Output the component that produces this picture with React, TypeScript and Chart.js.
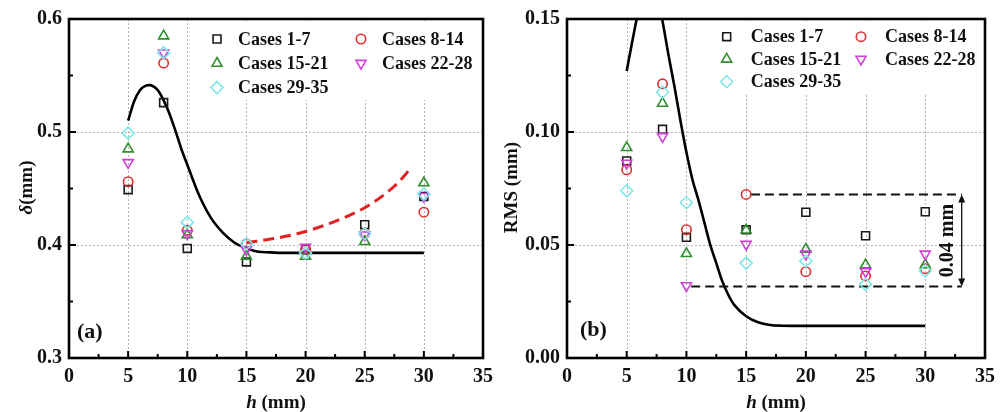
import React, { useEffect, useRef } from "react";
import { Chart, registerables } from "chart.js";
Chart.register(...registerables);

// ---------------- data ----------------
const hValues = [5, 8, 10, 15, 20, 25, 30];
const caseLabels = ["Cases 1-7", "Cases 8-14", "Cases 15-21", "Cases 22-28", "Cases 29-35"];

// panel (a): delta (mm)
const delta1_7 = [0.449, 0.526, 0.397, 0.385, 0.396, 0.418, 0.443];
const delta8_14 = [0.456, 0.561, 0.413, 0.401, 0.396, 0.410, 0.429];
const delta15_21 = [0.485, 0.585, 0.409, 0.390, 0.390, 0.403, 0.455];
const delta22_28 = [0.473, 0.570, 0.410, 0.396, 0.398, 0.409, 0.443];
const delta29_35 = [0.499, 0.570, 0.420, 0.401, 0.393, 0.410, 0.445];

const deltaFitH = [5, 5.5, 6, 6.5, 6.8, 7.5, 8, 8.5, 9, 9.5, 10, 11, 12, 13, 14, 15, 16, 17, 18, 20, 25, 30];
const deltaFit = [0.510, 0.527, 0.537, 0.541, 0.5415, 0.537, 0.528, 0.516, 0.501, 0.485, 0.471, 0.444, 0.424, 0.411, 0.402, 0.397, 0.394, 0.3935, 0.393, 0.393, 0.393, 0.393];

const deltaTrendH = [15, 17.5, 20, 22.5, 25, 27.5, 29];
const deltaTrend = [0.402, 0.406, 0.412, 0.421, 0.433, 0.452, 0.469];

// panel (b): RMS (mm)
const rms1_7 = [0.0872, 0.1012, 0.0534, 0.0567, 0.0645, 0.0541, 0.0647];
const rms8_14 = [0.0833, 0.1213, 0.0568, 0.0724, 0.0382, 0.0363, 0.0395];
const rms15_21 = [0.0931, 0.1127, 0.0462, 0.0566, 0.0481, 0.0412, 0.0412];
const rms22_28 = [0.0862, 0.0980, 0.0320, 0.0503, 0.0460, 0.0382, 0.0460];
const rms29_35 = [0.0740, 0.1176, 0.0688, 0.0420, 0.0429, 0.0326, 0.0386];

const rmsFitH = [5, 5.5, 6, 6.5, 7, 7.5, 8, 8.5, 9, 9.5, 10, 10.5, 11, 11.5, 12, 12.5, 13, 13.5, 14, 15, 16, 17, 18, 20, 25, 30];
const rmsFit = [0.127, 0.141, 0.154, 0.163, 0.166, 0.162, 0.149, 0.134, 0.120, 0.105, 0.091, 0.079, 0.070, 0.060, 0.050, 0.042, 0.034, 0.028, 0.0235, 0.0185, 0.0158, 0.0146, 0.0143, 0.0142, 0.0142, 0.0142];

const rangeTop = 0.0724;
const rangeBottom = 0.0316;
const rangeTopH = [15.4, 33.05];
const rangeBottomH = [10.4, 33.05];
const rangeArrowH = 33.05;
const rangeLabel = "0.04 mm";
const rangeLabelH = 31.9;

// ticks
const hTicks = [0, 5, 10, 15, 20, 25, 30, 35];
const hMinorTicks = [2.5, 7.5, 12.5, 17.5, 22.5, 27.5, 32.5];
const hGrid = [5, 10, 15, 20, 25, 30];
const deltaTicks = [0.3, 0.4, 0.5, 0.6];
const deltaMinorTicks = [0.35, 0.45, 0.55];
const deltaGrid = [0.4, 0.5];
const rmsTicks = [0, 0.05, 0.1, 0.15];
const rmsMinorTicks = [0.025, 0.075, 0.125];
const rmsGrid = [0.05, 0.1];

// ---------------- styles ----------------
const FONT = '"Liberation Serif", "Times New Roman", serif';
Chart.defaults.font.family = FONT;

type MarkerStyle = { kind: string; color: string; r: number };
const markerStyles: MarkerStyle[] = [
  { kind: "square", color: "#1a1a1a", r: 5.6 },
  { kind: "circle", color: "#dc2f2f", r: 4.7 },
  { kind: "triangle", color: "#2f8f2f", r: 5.8 },
  { kind: "down", color: "#d040d8", r: 5.8 },
  { kind: "diamond", color: "#7ee8e8", r: 6 },
];

function chartPointStyle(kind: string) {
  if (kind === "square") return { pointStyle: "rect", rotation: 0 };
  if (kind === "circle") return { pointStyle: "circle", rotation: 0 };
  if (kind === "triangle") return { pointStyle: "triangle", rotation: 0 };
  if (kind === "down") return { pointStyle: "triangle", rotation: 180 };
  return { pointStyle: "rectRot", rotation: 0 };
}

function drawMarker(ctx: CanvasRenderingContext2D, kind: string, x: number, y: number, r: number, color: string) {
  ctx.save();
  ctx.strokeStyle = color;
  ctx.lineWidth = 1.6;
  ctx.setLineDash([]);
  ctx.beginPath();
  if (kind === "square") {
    const s = Math.SQRT1_2 * r;
    ctx.rect(x - s, y - s, 2 * s, 2 * s);
  } else if (kind === "circle") {
    ctx.arc(x, y, r, 0, Math.PI * 2);
  } else if (kind === "triangle" || kind === "down") {
    const sgn = kind === "triangle" ? 1 : -1;
    const w = (r * Math.sqrt(3)) / 2;
    ctx.moveTo(x, y - sgn * r);
    ctx.lineTo(x + w, y + sgn * r * 0.5);
    ctx.lineTo(x - w, y + sgn * r * 0.5);
    ctx.closePath();
  } else {
    ctx.moveTo(x, y - r);
    ctx.lineTo(x + r, y);
    ctx.lineTo(x, y + r);
    ctx.lineTo(x - r, y);
    ctx.closePath();
  }
  ctx.stroke();
  ctx.restore();
}

function scatterSet(label: string, values: number[], style: MarkerStyle) {
  const ps = chartPointStyle(style.kind);
  return {
    label,
    data: hValues.map((h, i) => ({ x: h, y: values[i] })),
    showLine: false,
    pointStyle: ps.pointStyle,
    rotation: ps.rotation,
    pointRadius: style.r,
    pointBorderWidth: 1.6,
    pointBorderColor: style.color,
    pointBackgroundColor: "rgba(0,0,0,0)",
    borderColor: style.color,
    backgroundColor: "rgba(0,0,0,0)",
  };
}

function lineSet(xs: number[], ys: number[], color: string, width: number, dash: number[]) {
  return {
    label: "_line",
    data: xs.map((h, i) => ({ x: h, y: ys[i] })),
    showLine: true,
    pointRadius: 0,
    borderColor: color,
    borderWidth: width,
    borderDash: dash,
    cubicInterpolationMode: "monotone",
    fill: false,
  };
}

type PanelCfg = {
  yMin: number;
  yMax: number;
  yTicks: number[];
  yMinor: number[];
  yGrid: number[];
  yDigits: number;
  yAxisWidth: number;
  padRight: number;
  legend: { x: number; y: number; colGap: number; rowGap: number; textDx: number; box: [number, number, number, number] };
  yTitle: { x: number; parts: { t: string; italic: boolean }[] };
  tag: { t: string; x: number; y: number };
  extra?: (chart: any) => void;
};

function drawRich(ctx: CanvasRenderingContext2D, parts: { t: string; italic: boolean }[], size: number) {
  const fonts = parts.map((p) => `${p.italic ? "italic " : ""}bold ${size}px ${FONT}`);
  let total = 0;
  const widths = parts.map((p, i) => {
    ctx.font = fonts[i];
    const w = ctx.measureText(p.t).width;
    total += w;
    return w;
  });
  let cx = -total / 2;
  parts.forEach((p, i) => {
    ctx.font = fonts[i];
    ctx.fillText(p.t, cx, 0);
    cx += widths[i];
  });
}

function decorPlugin(cfg: PanelCfg) {
  return {
    id: "decor",
    beforeDatasetsDraw(chart: any) {
      const { ctx, chartArea: a, scales } = chart;
      const x = scales.x, y = scales.y;
      ctx.save();
      ctx.strokeStyle = "#b5b5b5";
      ctx.lineWidth = 1;
      ctx.setLineDash([2, 2]);
      ctx.beginPath();
      hGrid.forEach((v) => {
        const px = Math.round(x.getPixelForValue(v)) + 0.5;
        ctx.moveTo(px, a.top);
        ctx.lineTo(px, a.bottom);
      });
      cfg.yGrid.forEach((v) => {
        const py = Math.round(y.getPixelForValue(v)) + 0.5;
        ctx.moveTo(a.left, py);
        ctx.lineTo(a.right, py);
      });
      ctx.stroke();
      ctx.restore();
    },
    afterDatasetsDraw(chart: any) {
      const { ctx, chartArea: a, scales } = chart;
      const x = scales.x, y = scales.y;
      ctx.save();
      // legend
      const L = cfg.legend;
      ctx.fillStyle = "#ffffff";
      ctx.fillRect(L.box[0], L.box[1], L.box[2], L.box[3]);
      ctx.font = `bold 18px ${FONT}`;
      ctx.fillStyle = "#111";
      ctx.textBaseline = "middle";
      ctx.textAlign = "left";
      caseLabels.forEach((lab, i) => {
        const col = i % 2, row = Math.floor(i / 2);
        const mx = L.x + col * L.colGap, my = L.y + row * L.rowGap;
        drawMarker(ctx, markerStyles[i].kind, mx, my, markerStyles[i].r, markerStyles[i].color);
        ctx.fillStyle = "#111";
        ctx.fillText(lab, mx + L.textDx, my + 1);
      });

      if (cfg.extra) cfg.extra(chart);

      // frame
      ctx.setLineDash([]);
      ctx.strokeStyle = "#000";
      ctx.lineWidth = 2.6;
      ctx.strokeRect(a.left, a.top, a.right - a.left, a.bottom - a.top);
      // ticks
      ctx.lineWidth = 2;
      ctx.beginPath();
      hTicks.forEach((v) => {
        const px = x.getPixelForValue(v);
        ctx.moveTo(px, a.bottom);
        ctx.lineTo(px, a.bottom - 7);
      });
      hMinorTicks.forEach((v) => {
        const px = x.getPixelForValue(v);
        ctx.moveTo(px, a.bottom);
        ctx.lineTo(px, a.bottom - 4);
      });
      cfg.yTicks.forEach((v) => {
        const py = y.getPixelForValue(v);
        ctx.moveTo(a.left, py);
        ctx.lineTo(a.left + 7, py);
      });
      cfg.yMinor.forEach((v) => {
        const py = y.getPixelForValue(v);
        ctx.moveTo(a.left, py);
        ctx.lineTo(a.left + 4, py);
      });
      ctx.stroke();

      // panel tag
      ctx.fillStyle = "#111";
      ctx.font = `bold 22px ${FONT}`;
      ctx.textAlign = "left";
      ctx.textBaseline = "middle";
      ctx.fillText(cfg.tag.t, cfg.tag.x, cfg.tag.y);

      // x title
      ctx.save();
      ctx.translate((a.left + a.right) / 2, 403);
      ctx.textAlign = "left";
      drawRich(ctx, [{ t: "h", italic: true }, { t: " (mm)", italic: false }], 19);
      ctx.restore();

      // y title
      ctx.save();
      ctx.translate(cfg.yTitle.x, (a.top + a.bottom) / 2 - 1);
      ctx.rotate(-Math.PI / 2);
      ctx.textAlign = "left";
      drawRich(ctx, cfg.yTitle.parts, 19);
      ctx.restore();

      ctx.restore();
    },
  };
}

function buildConfig(cfg: PanelCfg, datasets: any[]) {
  return {
    type: "scatter",
    data: { datasets },
    options: {
      responsive: false,
      animation: false,
      events: [],
      layout: { padding: { left: 0, right: cfg.padRight, top: 19, bottom: 0 } },
      plugins: { legend: { display: false }, tooltip: { enabled: false } },
      scales: {
        x: {
          type: "linear",
          min: 0,
          max: 35,
          afterBuildTicks: (s: any) => {
            s.ticks = hTicks.map((v) => ({ value: v }));
          },
          afterFit: (s: any) => {
            s.height = 54;
          },
          ticks: {
            autoSkip: false,
            maxRotation: 0,
            padding: 7,
            color: "#111",
            font: { family: FONT, size: 20, weight: "bold" },
            callback: (v: any) => String(v),
          },
          grid: { display: false, drawTicks: false },
          border: { display: false },
        },
        y: {
          type: "linear",
          min: cfg.yMin,
          max: cfg.yMax,
          afterBuildTicks: (s: any) => {
            s.ticks = cfg.yTicks.map((v) => ({ value: v }));
          },
          afterFit: (s: any) => {
            s.width = cfg.yAxisWidth;
          },
          ticks: {
            autoSkip: false,
            padding: 7,
            color: "#111",
            font: { family: FONT, size: 20, weight: "bold" },
            callback: (v: any) => Number(v).toFixed(cfg.yDigits),
          },
          grid: { display: false, drawTicks: false },
          border: { display: false },
        },
      },
    },
    plugins: [decorPlugin(cfg)],
  };
}

const deltaPanel: PanelCfg = {
  yMin: 0.3,
  yMax: 0.6,
  yTicks: deltaTicks,
  yMinor: deltaMinorTicks,
  yGrid: deltaGrid,
  yDigits: 1,
  yAxisWidth: 69,
  padRight: 16,
  legend: { x: 217, y: 39, colGap: 144, rowGap: 24.3, textDx: 21, box: [198, 21, 284, 79] },
  yTitle: { x: 27, parts: [{ t: "δ", italic: true }, { t: "(mm)", italic: false }] },
  tag: { t: "(a)", x: 77, y: 332 },
};

const rmsPanel: PanelCfg = {
  yMin: 0,
  yMax: 0.15,
  yTicks: rmsTicks,
  yMinor: rmsMinorTicks,
  yGrid: rmsGrid,
  yDigits: 2,
  yAxisWidth: 67,
  padRight: 21,
  legend: { x: 226.7, y: 36.7, colGap: 134.3, rowGap: 22.5, textDx: 24, box: [202, 21, 280, 74] },
  yTitle: { x: 12, parts: [{ t: "RMS (mm)", italic: false }] },
  tag: { t: "(b)", x: 80, y: 330 },
  extra: (chart: any) => {
    const { ctx, scales } = chart;
    const x = scales.x, y = scales.y;
    const ax = x.getPixelForValue(rangeArrowH);
    const yt = y.getPixelForValue(rangeTop);
    const yb = y.getPixelForValue(rangeBottom);
    ctx.save();
    ctx.strokeStyle = "#111";
    ctx.fillStyle = "#111";
    ctx.setLineDash([]);
    ctx.lineWidth = 1.3;
    ctx.beginPath();
    ctx.moveTo(ax, yt + 6);
    ctx.lineTo(ax, yb - 6);
    ctx.stroke();
    ctx.beginPath();
    ctx.moveTo(ax, yt);
    ctx.lineTo(ax - 3.5, yt + 8);
    ctx.lineTo(ax + 3.5, yt + 8);
    ctx.closePath();
    ctx.fill();
    ctx.beginPath();
    ctx.moveTo(ax, yb);
    ctx.lineTo(ax - 3.5, yb - 8);
    ctx.lineTo(ax + 3.5, yb - 8);
    ctx.closePath();
    ctx.fill();
    // label
    ctx.translate(x.getPixelForValue(rangeLabelH), (yt + yb) / 2);
    ctx.rotate(-Math.PI / 2);
    ctx.font = `bold 20px ${FONT}`;
    ctx.textAlign = "center";
    ctx.textBaseline = "middle";
    ctx.fillText(rangeLabel, 0, 0);
    ctx.restore();
  },
};

function deltaDatasets() {
  const vals = [delta1_7, delta8_14, delta15_21, delta22_28, delta29_35];
  return [
    ...vals.map((v, i) => scatterSet(caseLabels[i], v, markerStyles[i])).reverse(),
    lineSet(deltaTrendH, deltaTrend, "#e02222", 3, [11, 6]),
    lineSet(deltaFitH, deltaFit, "#000000", 2.6, []),
  ];
}

function rmsDatasets() {
  const vals = [rms1_7, rms8_14, rms15_21, rms22_28, rms29_35];
  return [
    ...vals.map((v, i) => scatterSet(caseLabels[i], v, markerStyles[i])).reverse(),
    lineSet(rangeTopH, rangeTopH.map(() => rangeTop), "#111111", 2, [9, 5]),
    lineSet(rangeBottomH, rangeBottomH.map(() => rangeBottom), "#111111", 2, [9, 5]),
    lineSet(rmsFitH, rmsFit, "#000000", 2.6, []),
  ];
}

function Panel(props: { left: number; width: number; cfg: PanelCfg; datasets: () => any[] }) {
  const ref = useRef<HTMLCanvasElement>(null);
  useEffect(() => {
    const chart = new Chart(ref.current as HTMLCanvasElement, buildConfig(props.cfg, props.datasets()) as any);
    return () => chart.destroy();
  }, []);
  return (
    <canvas
      ref={ref}
      width={props.width}
      height={412}
      style={{ position: "absolute", left: props.left, top: 0, width: props.width, height: 412, display: "block" }}
    />
  );
}

export default function App() {
  return (
    <div style={{ position: "absolute", left: 0, top: 0, width: 1006, height: 412, background: "#fff", overflow: "hidden" }}>
      <Panel left={0} width={500} cfg={deltaPanel} datasets={deltaDatasets} />
      <Panel left={500} width={506} cfg={rmsPanel} datasets={rmsDatasets} />
    </div>
  );
}
